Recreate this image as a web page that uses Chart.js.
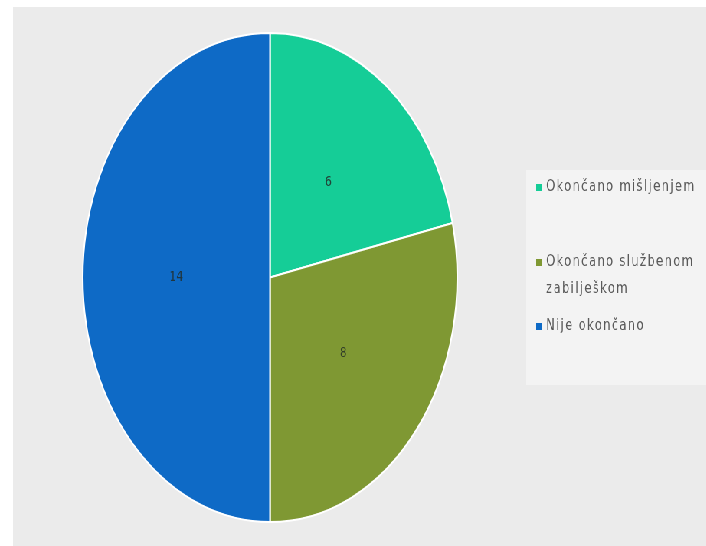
<!DOCTYPE html>
<html>
<head>
<meta charset="utf-8">
<script src="https://cdn.jsdelivr.net/npm/chart.js@4.4.1/dist/chart.umd.min.js"></script>
<style>
  html, body { margin: 0; padding: 0; background: #ffffff; }
  body { width: 706px; height: 546px; overflow: hidden; position: relative; }
  /* the reference picture is squeezed sideways, so draw wide and scale down */
  .chartbox {
    position: absolute; left: 13px; top: 7px;
    width: 906px; height: 539px;
    background: #ebebeb;
    transform: scaleX(0.766); transform-origin: 0 0;
  }
</style>
</head>
<body>
<div class="chartbox"><canvas id="pieChart"></canvas></div>
<script>
const labels = ['Okončano mišljenjem', 'Okončano službenom zabilješkom', 'Nije okončano'];
const values = [6, 8, 14];
const colors = ['#15cd97', '#7f9833', '#0e6ac6'];

// value text in the middle of each slice
const valueLabels = {
  id: 'valueLabels',
  afterDatasetsDraw(chart) {
    const ctx = chart.ctx;
    const meta = chart.getDatasetMeta(0);
    ctx.save();
    ctx.font = '14px "DejaVu Sans"';
    ctx.fillStyle = 'rgba(35, 45, 40, 0.85)';
    ctx.textAlign = 'center';
    ctx.textBaseline = 'middle';
    meta.data.forEach((arc, i) => {
      const pos = arc.tooltipPosition();
      ctx.fillText(String(chart.data.datasets[0].data[i]), pos.x, pos.y);
    });
    ctx.restore();
  }
};

// legend on a lighter panel to the right
const sideLegend = {
  id: 'sideLegend',
  afterDraw(chart) {
    const ctx = chart.ctx;
    const panelX = 670, panelY = 163;
    const textX = 696, maxW = 214;
    const rowY = [180, 255, 319];
    ctx.save();
    ctx.fillStyle = '#f3f3f3';
    ctx.fillRect(panelX, panelY, chart.width - panelX, 215);
    ctx.font = '15px "DejaVu Sans"';
    ctx.letterSpacing = '1.8px';
    ctx.textBaseline = 'middle';
    chart.data.labels.forEach((label, i) => {
      ctx.fillStyle = chart.data.datasets[0].backgroundColor[i];
      ctx.fillRect(683, rowY[i] - 3, 8, 7);
      // wrap words that do not fit
      const words = label.split(' ');
      const lines = [];
      let line = '';
      words.forEach(w => {
        const test = line ? line + ' ' + w : w;
        if (line && ctx.measureText(test).width > maxW) {
          lines.push(line);
          line = w;
        } else {
          line = test;
        }
      });
      lines.push(line);
      ctx.fillStyle = '#5a5a5a';
      lines.forEach((l, j) => ctx.fillText(l, textX, rowY[i] + j * 27));
    });
    ctx.restore();
  }
};

const ctx = document.getElementById('pieChart').getContext('2d');
new Chart(ctx, {
  type: 'pie',
  data: {
    labels: labels,
    datasets: [{
      data: values,
      backgroundColor: colors,
      borderColor: '#ffffff',
      borderWidth: 2
    }]
  },
  options: {
    responsive: true,
    maintainAspectRatio: false,
    animation: false,
    layout: {
      padding: { left: 90, right: 325, top: 24, bottom: 22 }
    },
    plugins: {
      legend: { display: false },
      tooltip: { enabled: false }
    }
  },
  plugins: [valueLabels, sideLegend]
});
</script>
</body>
</html>
